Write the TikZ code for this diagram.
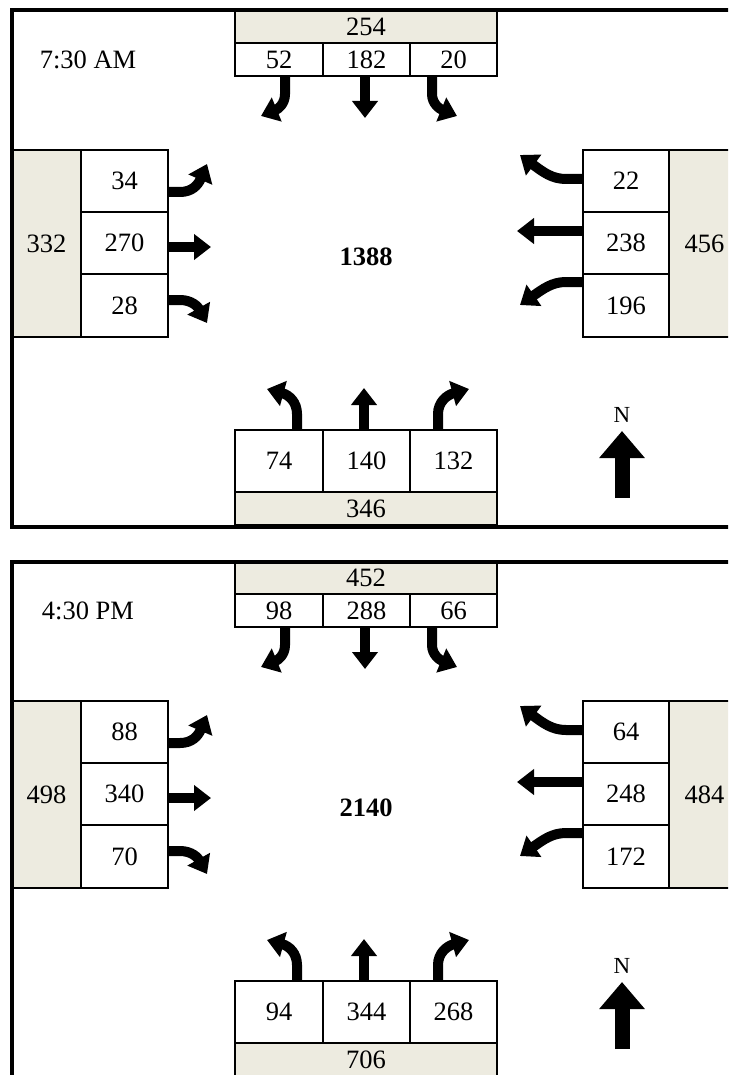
\documentclass[tikz,border=0pt]{standalone}
\usepackage{fontspec}
\setmainfont{Liberation Serif}
\usetikzlibrary{arrows.meta}
\definecolor{beige}{RGB}{237,235,224}
\tikzset{
  cell/.style={draw=black, line width=2pt, fill=white, inner sep=0pt, font=\fontsize{26.5}{30}\selectfont},
  totcell/.style={cell, fill=beige},
  flow/.style={line width=10pt, line cap=butt, -{Triangle[width=25pt,length=17pt]}},
  northarrow/.style={line width=15pt, line cap=butt, -{Triangle[width=44pt,length=27pt]}},
  frameline/.style={line width=4pt},
  label/.style={inner sep=0pt, font=\fontsize{26.5}{30}\selectfont},
}
% style, name, x1, y1, x2, y2, text
\newcommand\bx[7]{\node[#1, minimum width={#5-#3}, minimum height={#6-#4}] (#2) at ({(#3+#5)/2},{(#4+#6)/2}) {#7};}
\newcommand\Panel[3]{%
  % north approach
  \bx{totcell}{#1nt}{235}{11}{497}{43}{\Nt}
  \bx{cell}{#1n1}{235}{43}{323}{76}{\Na}
  \bx{cell}{#1n2}{323}{43}{410}{76}{\Nb}
  \bx{cell}{#1n3}{410}{43}{497}{76}{\Nc}
  % west approach
  \bx{totcell}{#1wt}{12}{150}{81}{337}{\Wt}
  \bx{cell}{#1w1}{81}{150}{168}{212}{\Wa}
  \bx{cell}{#1w2}{81}{212}{168}{274}{\Wb}
  \bx{cell}{#1w3}{81}{274}{168}{337}{\Wc}
  % east approach
  \bx{totcell}{#1et}{669}{150}{740}{337}{\Et}
  \bx{cell}{#1e1}{583}{150}{669}{212}{\Ea}
  \bx{cell}{#1e2}{583}{212}{669}{274}{\Eb}
  \bx{cell}{#1e3}{583}{274}{669}{337}{\Ec}
  % south approach
  \bx{cell}{#1s1}{235}{430}{323}{492}{\Sa}
  \bx{cell}{#1s2}{323}{430}{410}{492}{\Sb}
  \bx{cell}{#1s3}{410}{430}{497}{492}{\Sc}
  \bx{totcell}{#1st}{235}{492}{497}{525}{\St}
  % labels
  \node[label] (#1time) at (88,60) {#2};
  \node[label, font=\fontsize{26.5}{30}\selectfont\bfseries] (#1tot) at (366,257) {#3};
  \node[label, font=\fontsize{23}{26}\selectfont] (#1N) at (622,415) {N};
  \coordinate (#1Nbase) at (622,498);
  \coordinate (#1Ntip) at (622,431);
  \draw[northarrow] (#1Nbase) -- (#1Ntip);
  % southbound arrows
  \draw[flow] (285,77) -- (285,94) .. controls (285,104) and (278,109) .. (261,116);
  \draw[flow] (365,77) -- (365,118);
  \draw[flow] (432,77) -- (432,94) .. controls (432,104) and (440,109) .. (457,116);
  % eastbound arrows
  \draw[flow] (169,192) -- (180,192) .. controls (192,192) and (198,185) .. (207,164);
  \draw[flow] (169,247) -- (211,247);
  \draw[flow] (169,300) -- (180,300) .. controls (192,300) and (198,307) .. (207,323);
  % westbound arrows
  \draw[flow] (583,179) -- (566,179) .. controls (552,179) and (543,172) .. (520,155);
  \draw[flow] (583,231) -- (517,231);
  \draw[flow] (583,282) -- (566,282) .. controls (552,282) and (543,289) .. (520,305);
  % northbound arrows
  \draw[flow] (297,430) -- (297,414) .. controls (297,402) and (289,395) .. (267,389);
  \draw[flow] (364,430) -- (364,388);
  \draw[flow] (438,430) -- (438,414) .. controls (438,402) and (447,395) .. (469,389);
  % frame
  \draw[frameline] (745,10.5) -- (11.5,10.5) -- (11.5,527) -- (745,527);
}
\begin{document}
\begin{tikzpicture}[x=1pt,y=-1pt]
  \useasboundingbox (0,0) rectangle (728,1075);
  \clip (0,0) rectangle (728,1075);
  \fill[white] (0,0) rectangle (728,1075);
  \def\Nt{254}\def\Na{52}\def\Nb{182}\def\Nc{20}
  \def\Wt{332}\def\Wa{34}\def\Wb{270}\def\Wc{28}
  \def\Et{456}\def\Ea{22}\def\Eb{238}\def\Ec{196}
  \def\St{346}\def\Sa{74}\def\Sb{140}\def\Sc{132}
  \Panel{a}{7:30 AM}{1388}
  \begin{scope}[yshift=-551pt]
    \def\Nt{452}\def\Na{98}\def\Nb{288}\def\Nc{66}
    \def\Wt{498}\def\Wa{88}\def\Wb{340}\def\Wc{70}
    \def\Et{484}\def\Ea{64}\def\Eb{248}\def\Ec{172}
    \def\St{706}\def\Sa{94}\def\Sb{344}\def\Sc{268}
    \Panel{b}{4:30 PM}{2140}
  \end{scope}
\end{tikzpicture}
\end{document}
